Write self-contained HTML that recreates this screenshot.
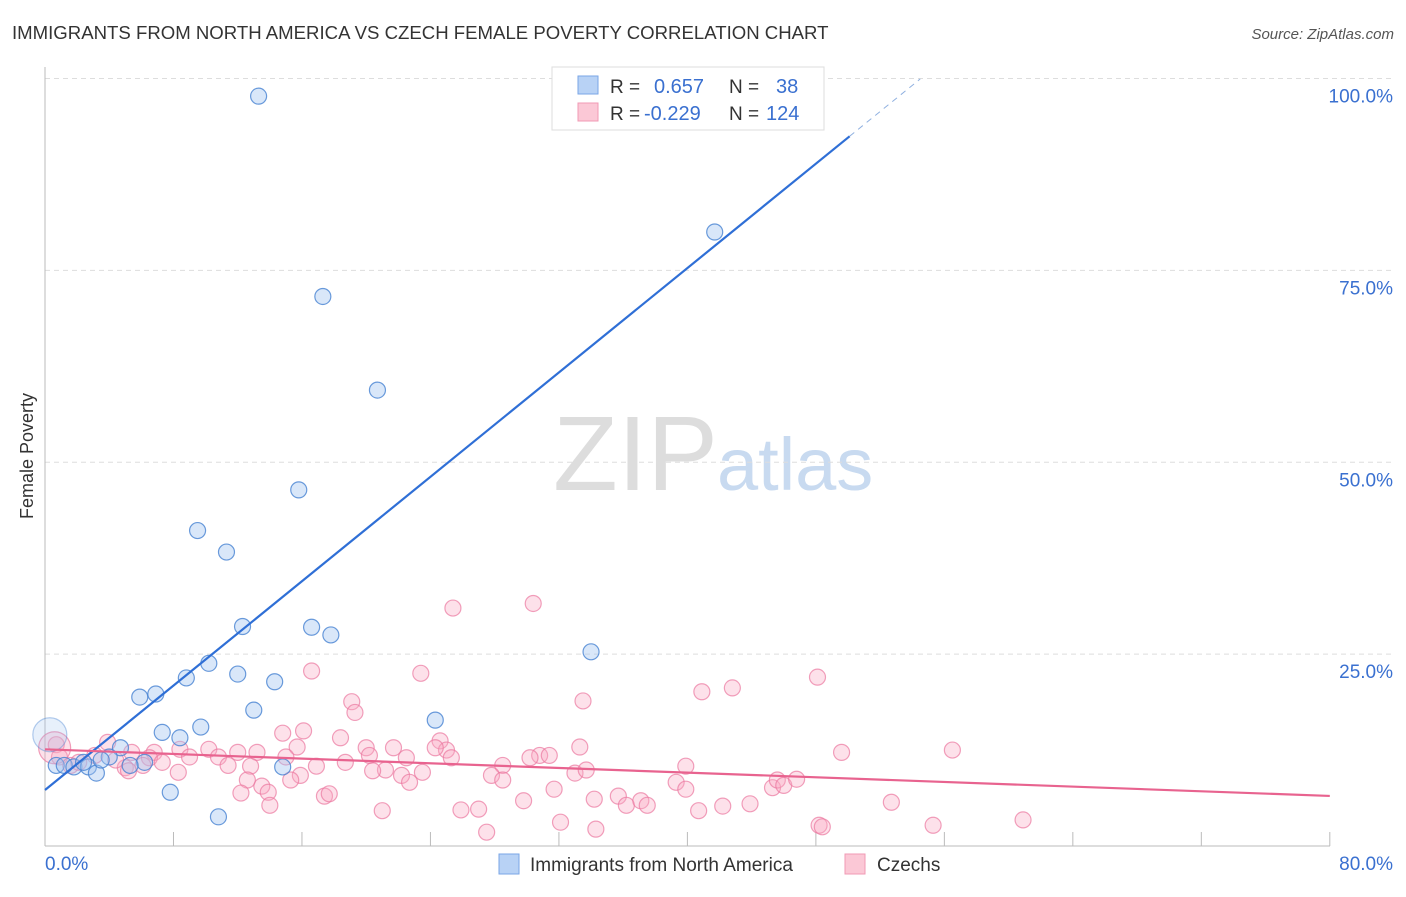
<!DOCTYPE html>
<html><head><meta charset="utf-8"><style>
body{margin:0;background:#fff;font-family:"Liberation Sans",sans-serif}
svg text{font-family:"Liberation Sans",sans-serif}
</style></head><body>
<svg id="c" width="1406" height="892" xmlns="http://www.w3.org/2000/svg">
<text x="12" y="39" font-size="18.6" fill="#333">IMMIGRANTS FROM NORTH AMERICA VS CZECH FEMALE POVERTY CORRELATION CHART</text>
<text x="1394" y="39" font-size="15" fill="#555" font-style="italic" text-anchor="end">Source: ZipAtlas.com</text>
<text transform="translate(33,456) rotate(-90)" font-size="18" fill="#333" text-anchor="middle">Female Poverty</text>
<g>
<text x="553" y="490" font-size="106" fill="#ddd" font-family="Liberation Serif,serif">ZIP</text>
<text x="717" y="490" font-size="74" fill="#c8daf0">atlas</text>
</g>
<g id="grid"></g><g id="pts"></g><g id="lines"></g>
<g>
<rect x="552" y="67" width="272" height="63" fill="#fff" stroke="#ddd"/>
<rect x="578" y="76" width="20" height="18" fill="#b8d2f5" stroke="#7aa6e6"/>
<rect x="578" y="103" width="20" height="18" fill="#fbc8d6" stroke="#f09ab4"/>
<text x="610" y="93" font-size="19" fill="#333">R =</text><text x="654" y="93" font-size="20" fill="#3a70d0">0.657</text>
<text x="729" y="93" font-size="19" fill="#333">N =</text><text x="776" y="93" font-size="20" fill="#3a70d0">38</text>
<text x="610" y="120" font-size="19" fill="#333">R =</text><text x="644" y="120" font-size="20" fill="#3a70d0">-0.229</text>
<text x="729" y="120" font-size="19" fill="#333">N =</text><text x="766" y="120" font-size="20" fill="#3a70d0">124</text>
</g>
<g>
<rect x="499" y="854" width="20" height="20" fill="#b8d2f5" stroke="#7aa6e6"/>
<text x="530" y="871" font-size="19" fill="#333">Immigrants from North America</text>
<rect x="845" y="854" width="20" height="20" fill="#fbc8d6" stroke="#f09ab4"/>
<text x="877" y="871" font-size="19" fill="#333">Czechs</text>
</g>
</svg>
<script>
const yTicks=[25,50,75,100];
const xTickLabels=["0.0%","80.0%"];
const blueX=[13.3,41.7,17.3,20.7,15.8,9.5,11.3,12.3,16.6,17.8,34.0,10.2,12.0,8.8,14.3,5.9,6.9,13.0,24.3,9.7,7.3,8.4,4.7,4.0,6.2,0.7,1.2,1.8,2.7,3.2,14.8,7.8,10.8,33.3,3.5,5.3,2.4,0.3];
const blueY=[97.7,80.0,71.6,59.4,46.4,41.1,38.3,28.6,28.5,27.5,25.3,23.8,22.4,21.9,21.4,19.4,19.8,17.7,16.4,15.5,14.8,14.1,12.8,11.6,10.9,10.5,10.5,10.3,10.3,9.5,10.3,7.0,3.8,100,11.2,10.5,10.9,14.5];
const pinkX=[25.4,30.4,16.6,23.4,48.1,42.8,40.9,33.5,19.1,19.3,24.6,33.3,56.5,49.6,16.1,14.8,18.4,15.7,20.0,21.7,25.0,24.3,30.8,31.4,30.2,25.3,20.2,22.5,18.7,16.9,15.0,12.0,13.2,10.2,8.4,6.8,5.4,3.9,0.7,0.9,3.1,6.5,7.3,9.0,10.8,11.4,12.8,8.3,5.0,5.2,21.2,20.4,22.2,23.5,28.5,27.8,33.0,33.7,39.9,39.3,39.9,28.5,31.7,22.7,15.9,15.3,13.5,12.6,12.2,13.9,14.0,17.4,17.7,21.0,25.9,27.0,27.5,29.8,32.1,34.3,34.2,35.7,36.2,37.1,37.5,40.7,42.2,43.9,45.3,45.6,46.0,46.8,48.2,48.4,52.7,55.3,60.9,1.6,2.1,4.4,6.1,0.6];
const pinkY=[31.0,31.6,22.8,22.5,22.0,20.6,20.1,18.9,18.8,17.4,13.7,12.9,12.5,12.2,15.0,14.7,14.1,12.9,12.8,12.8,12.5,12.8,11.8,11.8,11.5,11.5,11.8,11.5,10.9,10.4,11.6,12.2,12.2,12.6,12.6,12.2,12.2,13.5,13.2,11.6,11.8,11.5,10.9,11.6,11.6,10.5,10.4,9.6,10.2,9.8,9.9,9.8,9.2,9.6,10.5,9.2,9.5,9.9,10.4,8.3,7.4,8.6,7.4,8.3,9.2,8.6,7.8,8.6,6.9,7.0,5.3,6.5,6.8,4.6,4.7,4.8,1.8,5.9,3.1,2.2,6.1,6.5,5.3,5.9,5.3,4.6,5.2,5.5,7.6,8.6,7.9,8.7,2.7,2.5,5.7,2.7,3.4,10.5,10.9,11.2,10.5,12.8];
const blueLine=[7.3,1.7];
const pinkLine=[12.6,-0.076];
const X=v=>45+v*16.06, Y=v=>846-v*7.675;
const NS="http://www.w3.org/2000/svg";
function mk(p,t,a){const e=document.createElementNS(NS,t);for(const k in a)e.setAttribute(k,a[k]);p.appendChild(e);return e;}
const g=document.getElementById('grid');
yTicks.forEach(v=>{
 const l=mk(g,'line',{x1:45,x2:1395,y1:Y(v),y2:Y(v),stroke:'#ddd','stroke-dasharray':'5,4'});
 
 
 const t=mk(g,'text',{x:1393,y:Y(v)+24,'font-size':19,fill:'#3a70d0','text-anchor':'end'});t.textContent=v.toFixed(1)+'%';
 
 
});
mk(g,'line',{x1:45,x2:45,y1:67,y2:846,stroke:'#bbb'});
mk(g,'line',{x1:45,x2:1330,y1:846,y2:846,stroke:'#bbb'});
for(let i=0;i<=80;i+=8){mk(g,'line',{x1:X(i),x2:X(i),y1:846,y2:832,stroke:'#bbb'});}
const t0=mk(g,'text',{x:45,y:870,'font-size':19,fill:'#3a70d0'});t0.textContent=xTickLabels[0];


const t1=mk(g,'text',{x:1393,y:870,'font-size':19,fill:'#3a70d0','text-anchor':'end'});t1.textContent=xTickLabels[1];


const P=document.getElementById('pts');
pinkX.forEach((x,i)=>{const c=mk(P,'circle',{cx:X(x),cy:Y(pinkY[i]),r:i==pinkX.length-1?16:8,fill:'rgba(248,170,195,0.35)',stroke:'rgba(235,120,160,0.7)','stroke-width':1.2});
 
 });
blueX.forEach((x,i)=>{const big=i==blueX.length-1;const c=mk(P,'circle',{cx:X(x),cy:Y(blueY[i]),r:big?17:8,fill:big?'rgba(160,195,240,0.25)':'rgba(160,195,240,0.4)',stroke:big?'rgba(70,130,210,0.4)':'rgba(70,130,210,0.8)','stroke-width':1.2});
 
 });
const L=document.getElementById('lines');
const bl=mk(L,'line',{x1:X(0),y1:Y(blueLine[0]),x2:X(50.1),y2:Y(blueLine[0]+blueLine[1]*50.1),stroke:'#2f6fd6','stroke-width':2.2});


mk(L,'line',{x1:X(50.1),y1:Y(blueLine[0]+blueLine[1]*50.1),x2:X(54.5),y2:Y(blueLine[0]+blueLine[1]*54.5),stroke:'#8fb0e0','stroke-width':1,'stroke-dasharray':'6,5'});
const pl=mk(L,'line',{x1:X(0),y1:Y(pinkLine[0]),x2:X(80),y2:Y(pinkLine[0]+pinkLine[1]*80),stroke:'#e8638f','stroke-width':2.2});


</script>
</body></html>
